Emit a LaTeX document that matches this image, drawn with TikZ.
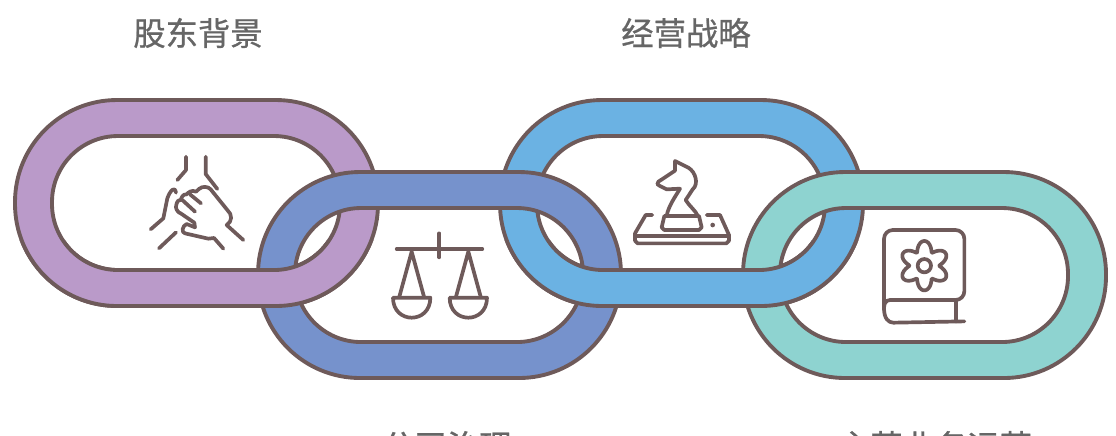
\documentclass[tikz,border=0pt]{standalone}
\usepackage{fontspec}
\newfontfamily\cjk[FakeBold=0.8]{Noto Sans CJK SC}
\definecolor{linkline}{HTML}{6E5A5A}
\definecolor{linkpurple}{HTML}{BA9AC9}
\definecolor{linkindigo}{HTML}{7692CC}
\definecolor{linksky}{HTML}{6BB2E3}
\definecolor{linkteal}{HTML}{8ED3D0}
\definecolor{titlegrey}{HTML}{666666}
\tikzset{
	ringline/.style={draw=linkline,line width=1.1pt,even odd rule},
	iconline/.style={draw=linkline,line width=1.05pt,line cap=round,line join=round},
	title/.style={font=\cjk\fontsize{9.2pt}{11pt}\selectfont,text=titlegrey,inner sep=0pt}
}
% left edge, top edge, fill
\newcommand{\chainlink}[3]{
	\path[ringline,fill=#3] [rounded corners=1.02cm] (#1,#2) rectangle ++(363,206)
		[rounded corners=0.66cm] (#1+37,#2+36) rectangle ++(288,134);
}

\begin{document}
\begin{tikzpicture}[x=0.01cm,y=-0.01cm]
\useasboundingbox (0,0) rectangle (1116,435);
\clip (0,0) rectangle (1116,435);

\node[title] (holders) at (198,33) {股东背景};
\node[title] (strategy) at (686,33) {经营战略};
\node[title] (governance) at (447,446) {公司治理};
\node[title] (business) at (935,446) {主营业务运营};

\chainlink{15}{100}{linkpurple}
\chainlink{500}{100}{linksky}
\chainlink{258}{172}{linkindigo}
\chainlink{743}{172}{linkteal}

% lower crossings go the other way
\begin{scope}
\clip (0,240) rectangle (1116,435);
\chainlink{15}{100}{linkpurple}
\chainlink{500}{100}{linksky}
\end{scope}

% hands
\begin{scope}[shift={(140,150)},scale=1/3]
\draw[iconline] (138,20) -- (138,60) -- (112,90);
\draw[iconline] (197,20) -- (197,72) -- (232,117);
\draw[iconline] (32,238) -- (70,205) -- (82,145) to [controls=+(-70:25) and +(-100:22)] (108,128);
\draw[iconline] (57,295) -- (108,247);
\draw[iconline] (310,270) -- (260,225) to [controls=+(-30:20) and +(40:20)] (262,180) -- (212,118)
	to [controls=+(-130:12) and +(-40:12)] (178,116) -- (168,125)
	to [controls=+(-150:14) and +(-60:5)] (140,133)
	to [controls=+(-170:12) and +(-70:5)] (122,150)
	to [controls=+(-170:12) and +(-90:5)] (108,172)
	to [controls=+(90:8) and +(-170:5)] (122,190) -- (163,218) -- (165,232) -- (140,222)
	to [controls=+(160:14) and +(-170:12)] (135,250) -- (205,266) -- (222,264) -- (250,296);
\draw[iconline] (150,133) -- (183,160);
\draw[iconline] (127,150) -- (165,185);
\end{scope}

% scales
\begin{scope}[shift={(130,140)},scale=1/3]
\draw[iconline] (800,327) -- (1057,327);
\draw[iconline] (928,280) -- (928,352);
\foreach \x in {845,1015} {
	\draw[iconline] (\x-37,470) -- (\x,335) -- (\x+37,470);
	\draw[iconline] (\x-56,473) -- (\x+56,473) to [controls=+(90:80) and +(90:80)] (\x-56,473);
}
\end{scope}

% knight on a board
\begin{scope}[shift={(625,150)},scale=1/3]
\draw[iconline] (125,197) to [controls=+(-80:30) and +(120:20)] (165,116) -- (125,118) -- (105,108)
	to [controls=+(-170:8) and +(150:8)] (100,95) -- (120,82) -- (150,62) -- (150,33) -- (190,53)
	to [controls=+(30:25) and +(-40:25)] (203,118) -- (182,150)
	to [controls=+(60:20) and +(-110:15)] (218,197);
\draw[iconline] (118,198) -- (222,198) -- (230,232) -- (222,240) -- (118,240) -- (110,232) -- cycle;
\draw[iconline] (82,195) -- (62,195) -- (30,250) -- (30,272) -- (38,280) -- (304,280) -- (312,272) -- (312,255) -- (285,195) -- (245,195);
\draw[iconline] (30,258) -- (312,258);
\fill[linkline] (263,225) circle (7);
\end{scope}

% book with a gear
\begin{scope}[shift={(875,220)},scale=1/3]
\draw[iconline,rounded corners=2.5pt] (27,270) -- (27,30) -- (268,30) -- (268,240) -- (45,240);
\draw[iconline] (45,240) to [controls=+(180:15) and +(-90:10)] (27,265) to [controls=+(90:30) and +(180:15)] (55,308) -- (268,304);
\draw[iconline] (243,242) -- (243,304);
\draw[iconline] (148,137) circle (20);
\draw[iconline] plot[domain=0:360,samples=180,smooth] ({148+(44+30*pow(0.502-0.5*cos(6*\x),0.6))*cos(\x)},{137+(44+30*pow(0.502-0.5*cos(6*\x),0.6))*sin(\x)}) -- cycle;
\end{scope}
\end{tikzpicture}
\end{document}
